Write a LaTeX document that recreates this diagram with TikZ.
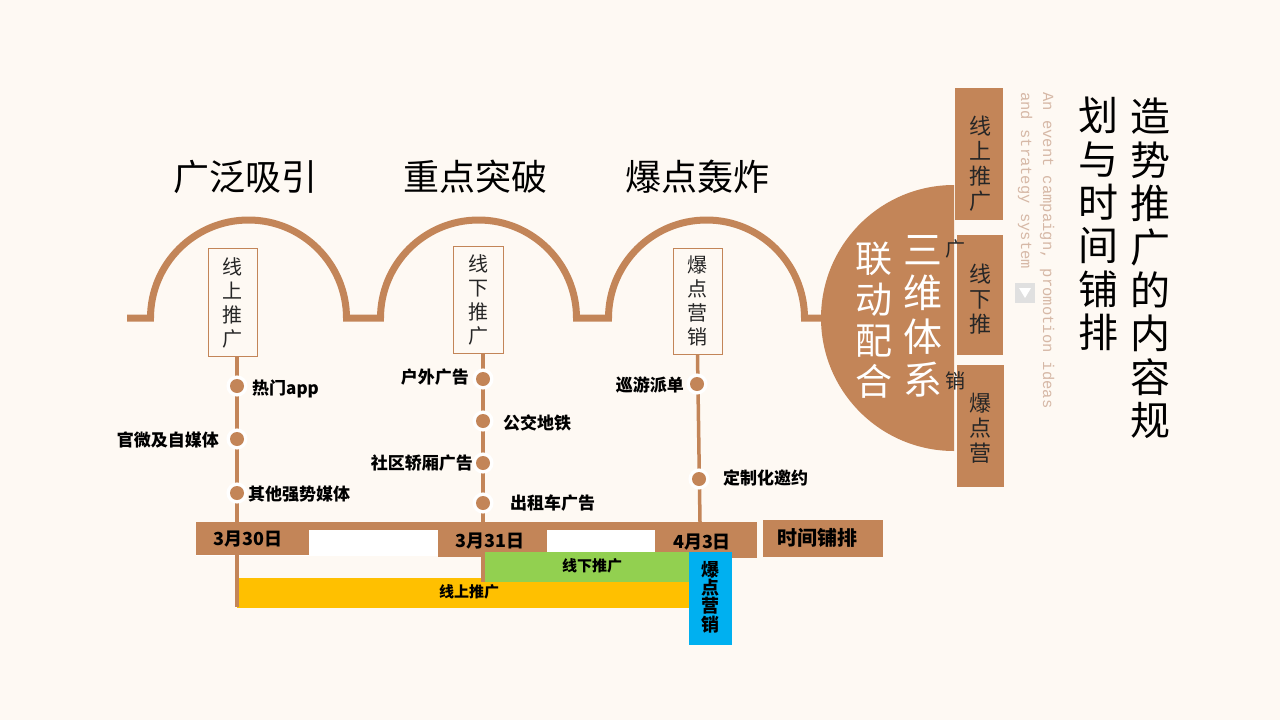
\documentclass[tikz,border=0pt]{standalone}
\usepackage{fontspec}
\setmainfont{Noto Sans CJK SC}
\newfontfamily\engfont{Liberation Mono}
\definecolor{bg}{RGB}{254,249,243}
\definecolor{brn}{RGB}{195,133,88}
\definecolor{eng}{RGB}{214,184,166}
\definecolor{grn}{RGB}{146,208,80}
\definecolor{ylw}{RGB}{255,192,0}
\definecolor{blu}{RGB}{0,176,240}
\tikzset{
  vt/.style={align=center, inner sep=0pt},
  head/.style={inner sep=0pt, font=\fontsize{36}{40}\selectfont, text=black},
  lbox/.style={draw=brn, line width=1pt, fill=bg, minimum width=49pt, minimum height=108pt, inner sep=0pt, align=center, font=\fontsize{20}{24}\selectfont, text=black!85},
  rbox/.style={fill=brn, inner sep=0pt},
  rtext/.style={vt, font=\fontsize{22}{25}\selectfont, text=black!85},
  lbl/.style={inner sep=0pt, font=\fontsize{17}{20}\selectfont\bfseries, text=black},
  dotn/.style={circle, fill=brn, inner sep=0pt, minimum size=14pt, preaction={draw=white, line width=7pt}},
  vline/.style={draw=brn, line width=3.5pt},
  datebox/.style={fill=brn, inner sep=0pt},
  datetext/.style={inner sep=0pt, font=\fontsize{18}{20}\selectfont\bfseries, text=black},
  barn/.style={inner sep=0pt, font=\fontsize{15}{18}\selectfont\bfseries, text=black}
}
\begin{document}
\begin{tikzpicture}[x=1pt,y=-1pt]
\useasboundingbox (0,0) rectangle (1280,720);
\fill[bg] (0,0) rectangle (1280,720);

% headings
\node[head] (h1) at (245,177) {广泛吸引};
\node[head] (h2) at (475,177) {重点突破};
\node[head] (h3) at (697.5,177) {爆点轰炸};

% arches
\draw[brn, line width=7pt] (127,318) -- (150.5,318) arc[start angle=180, end angle=0, radius=98pt]
  -- (380.5,318) arc[start angle=180, end angle=0, radius=98pt]
  -- (608.5,318) arc[start angle=180, end angle=0, radius=98pt] -- (826,318);

% big half circle
\fill[brn] (954,185) arc[start angle=90, end angle=270, radius=133pt] -- cycle;
\node[vt, font=\fontsize{39}{43.3}\selectfont, text=white] (c1) at (923,316.5) {三\\维\\体\\系};
\node[vt, font=\fontsize{37}{41}\selectfont, text=white] (c2) at (874,320) {联\\动\\配\\合};

% right boxes
\node[rbox, minimum width=48pt, minimum height=132pt] (rb1) at (979,154) {};
\node[rbox, minimum width=46pt, minimum height=120pt] (rb2) at (980,295) {};
\node[rbox, minimum width=47pt, minimum height=122pt] (rb3) at (980.5,426) {};
\node[rtext] (rt1) at (980,163.5) {线\\上\\推\\广};
\node[rtext] (rt2) at (980,299) {线\\下\\推};
\node[rtext] (rt3) at (980,428) {爆\\点\\营};
\node[vt, font=\fontsize{20}{24}\selectfont, text=black!85] (ov1) at (955,249) {广};
\node[vt, font=\fontsize{20}{24}\selectfont, text=black!85] (ov2) at (955,381) {销};

% english
\node[inner sep=0pt, rotate=-90, anchor=west, font=\engfont\fontsize{15.5}{18}\selectfont, text=eng] (e1) at (1047,92) {An event campaign, promotion ideas};
\node[inner sep=0pt, rotate=-90, anchor=west, font=\engfont\fontsize{15.5}{18}\selectfont, text=eng] (e2) at (1025,92) {and strategy system};
\node[fill=black!12, minimum size=20pt, inner sep=0pt] (icon) at (1025,293) {};
\fill[white] (1019,288) -- (1031,288) -- (1025,298) -- cycle;

% title
\node[vt, font=\fontsize{40}{43.4}\selectfont, text=black] (t1) at (1150,268.5) {造\\势\\推\\广\\的\\内\\容\\规};
\node[vt, font=\fontsize{40}{43.4}\selectfont, text=black] (t2) at (1098,224) {划\\与\\时\\间\\铺\\排};

% label boxes
\node[lbox] (lb1) at (232.5,302.5) {线\\上\\推\\广};
\node[lbox, minimum width=50pt, minimum height=107pt] (lb2) at (478,299.5) {线\\下\\推\\广};
\node[lbox, minimum height=106pt] (lb3) at (697.5,301) {爆\\点\\营\\销};

% timeline background and date boxes
\fill[white] (196,522) rectangle (757,556);
\fill[brn] (196,522) rectangle (757,530);
\node[datebox, minimum width=113pt, minimum height=33pt] (d1) at (252.5,538.5) {};
\node[datebox, minimum width=109pt, minimum height=35pt] (d2) at (492.5,539.5) {};
\node[datebox, minimum width=102pt, minimum height=36pt] (d3) at (706,540) {};
\node[datebox, minimum width=120pt, minimum height=37pt] (tl) at (823,538.5) {};

% bars
\node[barn, fill=ylw, minimum width=452pt, minimum height=30pt] (yb) at (463,593) {};
\node[barn, fill=grn, minimum width=206pt, minimum height=30pt] (gb) at (586,567) {};
\node[barn, fill=blu, minimum width=43pt, minimum height=93pt] (bb) at (710.5,598.5) {};

% vertical lines
\coordinate (e1b) at (237,607);
\coordinate (e2b) at (483,582);
\coordinate (e3b) at (700,522);
\draw[vline] (lb1.south -| e1b) -- (e1b);
\draw[vline] (lb2.south -| e2b) -- (e2b);
\draw[vline] (lb3.south) -- (e3b);

% texts on timeline
\node[datetext] at (248,539) {3月30日};
\node[datetext] at (490,541) {3月31日};
\node[datetext] at (702,542) {4月3日};
\node[datetext, font=\fontsize{20}{22}\selectfont\bfseries] at (817,538) {时间铺排};
\node[barn] at (469,592) {线上推广};
\node[barn] at (592,566) {线下推广};
\node[barn, align=center, font=\fontsize{18}{18.3}\selectfont\bfseries] at (710.5,597) {爆\\点\\营\\销};

% dots
\node[dotn] (p1) at (237,386) {};
\node[dotn] (p2) at (237,439) {};
\node[dotn] (p3) at (237,493) {};
\node[dotn] (q1) at (483,379) {};
\node[dotn] (q2) at (483,421) {};
\node[dotn] (q3) at (483,463) {};
\node[dotn] (q4) at (483,503) {};
\node[dotn] (r1) at (697,384) {};
\node[dotn] (r2) at (699,479) {};

% labels
\node[lbl, anchor=west] (l1) at (252,389) {热门app};
\node[lbl, anchor=east] (l2) at (219,440) {官微及自媒体};
\node[lbl, anchor=west] (l3) at (248,494) {其他强势媒体};
\node[lbl, anchor=east] (l4) at (469,377) {户外广告};
\node[lbl, anchor=west] (l5) at (503,423) {公交地铁};
\node[lbl, anchor=east] (l6) at (473,463) {社区轿厢广告};
\node[lbl, anchor=west] (l7) at (510,503) {出租车广告};
\node[lbl, anchor=east] (l8) at (684,385) {巡游派单};
\node[lbl, anchor=west] (l9) at (723,478) {定制化邀约};
\end{tikzpicture}
\end{document}
